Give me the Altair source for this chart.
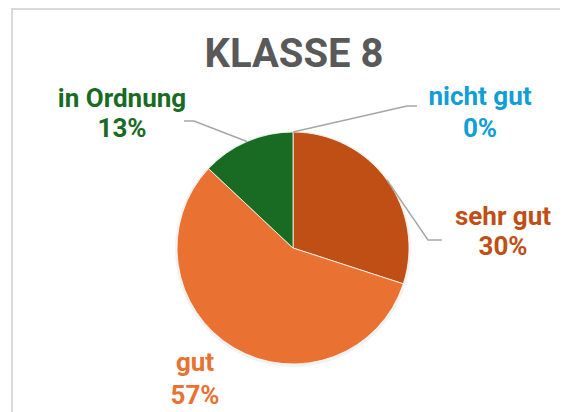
import math
import altair as alt
import pandas as pd

# ---------------- data ----------------
categories = ["nicht gut", "sehr gut", "gut", "in Ordnung"]
percent = [0, 30, 57, 13]
slice_colors = ["#0F9ED5", "#C04F15", "#E97132", "#196B24"]
title_text = "KLASSE 8"

# ---------------- layout (page pixel coordinates) ----------------
W, H = 552, 404
OFF = 8
CX, CY, R = 293, 248, 116
label_x = [480, 503, 195, 122]
label_y1 = [105, 225, 371, 107]
label_y2 = [137, 255, 404, 137]
leader_elbow = [(407, 106), (428, 240), None, (194, 121)]
leader_end = [(417, 106), (442, 240), None, (184, 121)]
FONT = "Roboto"

xs = alt.Scale(domain=[OFF, OFF + W], range=[0, W], nice=False, zero=False)
ys = alt.Scale(domain=[OFF, OFF + H], range=[0, H], nice=False, zero=False)
cs = alt.Scale(domain=categories, range=slice_colors)

# cumulative angles
starts, ends = [], []
acc = 0
for v in percent:
    starts.append(acc)
    acc += v
    ends.append(acc)
total = acc

pie_df = pd.DataFrame({"cat": categories, "start": starts, "end": ends})
theta_scale = alt.Scale(domain=[0, total], range=[0, 2 * math.pi])

shadow = alt.Chart(pie_df).mark_arc(radius=R + 2, color="#000000", opacity=0.05).encode(
    theta=alt.Theta("start:Q", scale=theta_scale, stack=None),
    theta2="end:Q",
    x=alt.XDatum(CX, type="quantitative", scale=xs, axis=None),
    y=alt.YDatum(CY + 1, type="quantitative", scale=ys, axis=None),
)

pie = alt.Chart(pie_df).mark_arc(radius=R, stroke="#ffffff", strokeWidth=0.8).encode(
    theta=alt.Theta("start:Q", scale=theta_scale, stack=None),
    theta2="end:Q",
    color=alt.Color("cat:N", scale=cs, legend=None),
    x=alt.XDatum(CX, type="quantitative", scale=xs, axis=None),
    y=alt.YDatum(CY, type="quantitative", scale=ys, axis=None),
)

# leader lines: from slice mid-angle on pie edge to label
rows = []
for i, cat in enumerate(categories):
    if leader_elbow[i] is None:
        continue
    mid = (starts[i] + percent[i] / 2) / total * 2 * math.pi
    ex = CX + R * math.sin(mid)
    ey = CY - R * math.cos(mid)
    rows.append({"cat": cat, "step": 0, "px": ex, "py": ey})
    rows.append({"cat": cat, "step": 1, "px": leader_elbow[i][0], "py": leader_elbow[i][1]})
    rows.append({"cat": cat, "step": 2, "px": leader_end[i][0], "py": leader_end[i][1]})
lead_df = pd.DataFrame(rows)

leaders = alt.Chart(lead_df).mark_line(color="#a6a6a6", strokeWidth=1.5).encode(
    x=alt.X("px:Q", scale=xs, axis=None),
    y=alt.Y("py:Q", scale=ys, axis=None),
    detail="cat:N",
    order="step:Q",
)

lab_df = pd.DataFrame({
    "cat": categories,
    "pct": [f"{v}%" for v in percent],
    "lx": label_x,
    "ly1": label_y1,
    "ly2": label_y2,
})

names = alt.Chart(lab_df).mark_text(
    font=FONT, fontWeight="bold", fontSize=26, align="center", baseline="alphabetic"
).encode(
    x=alt.X("lx:Q", scale=xs, axis=None),
    y=alt.Y("ly1:Q", scale=ys, axis=None),
    text="cat:N",
    color=alt.Color("cat:N", scale=cs, legend=None),
)

pcts = alt.Chart(lab_df).mark_text(
    font=FONT, fontWeight="bold", fontSize=26, align="center", baseline="alphabetic"
).encode(
    x=alt.X("lx:Q", scale=xs, axis=None),
    y=alt.Y("ly2:Q", scale=ys, axis=None),
    text="pct:N",
    color=alt.Color("cat:N", scale=cs, legend=None),
)

title_df = pd.DataFrame({"t": [title_text]})
title = alt.Chart(title_df).mark_text(
    font=FONT, fontWeight="bold", fontSize=40, color="#595959",
    align="center", baseline="alphabetic"
).encode(
    x=alt.XDatum(294, type="quantitative", scale=xs, axis=None),
    y=alt.YDatum(67, type="quantitative", scale=ys, axis=None),
    text="t:N",
)

border_left = alt.Chart(title_df).mark_rule(color="#d9d9d9", strokeWidth=2).encode(
    x=alt.XDatum(12, type="quantitative", scale=xs, axis=None),
    y=alt.YDatum(8, type="quantitative", scale=ys, axis=None),
    y2=alt.Y2Datum(OFF + H),
)
border_top = alt.Chart(title_df).mark_rule(color="#d9d9d9", strokeWidth=2).encode(
    y=alt.YDatum(9, type="quantitative", scale=ys, axis=None),
    x=alt.XDatum(11, type="quantitative", scale=xs, axis=None),
    x2=alt.X2Datum(OFF + W),
)

chart = alt.layer(
    border_left, border_top, shadow, pie, leaders, names, pcts, title
).properties(
    width=W, height=H, padding=0, autosize="none"
).configure_view(stroke=None)

chart.save("out.html", embed_options={"renderer": "svg", "actions": False})
